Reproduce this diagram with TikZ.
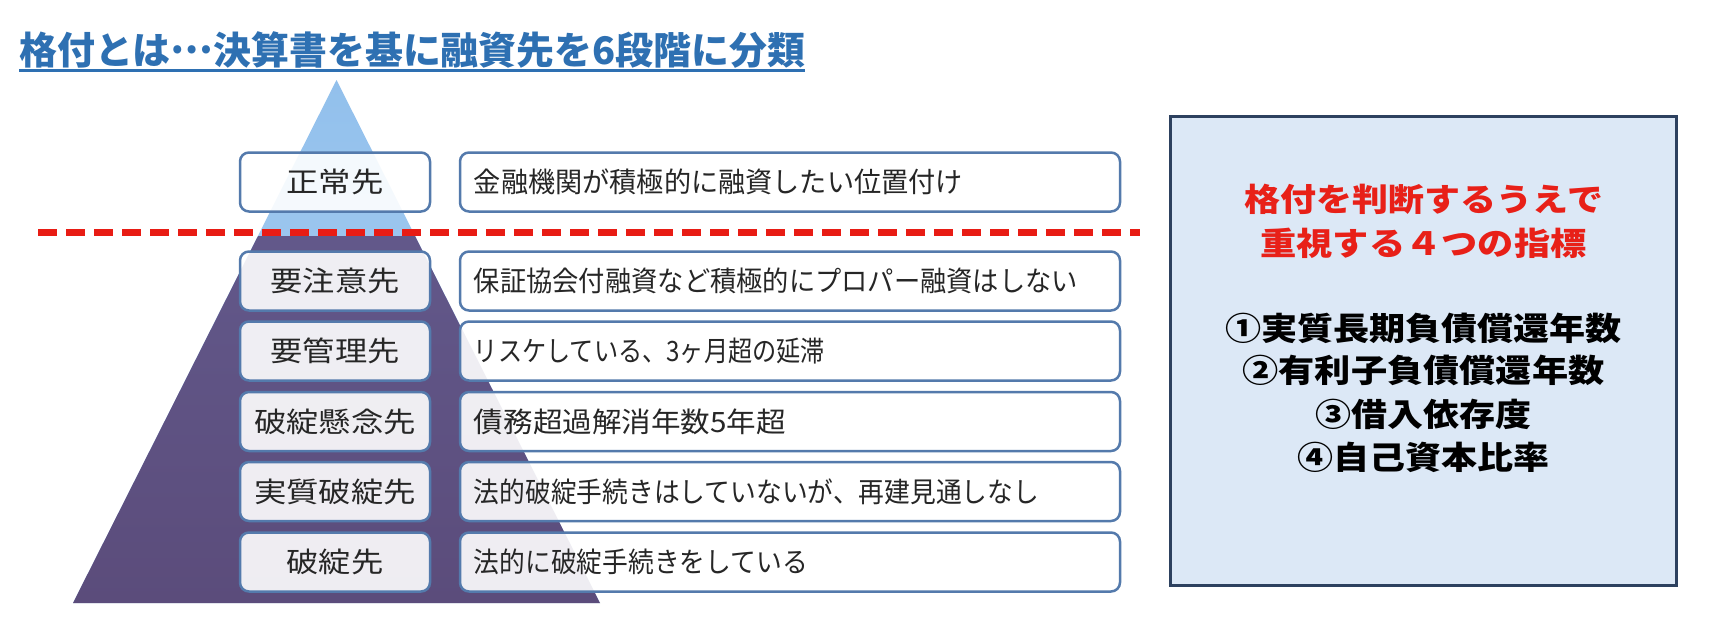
\documentclass[tikz,border=0pt]{standalone}
\usepackage{fontspec}
\usepackage{graphicx}
\newfontfamily\jp{Noto Sans CJK JP}
\newcommand{\fitw}[2]{\resizebox{#1pt}{\height}{#2}}
\definecolor{titleblue}{RGB}{46,112,178}
\definecolor{triblutop}{RGB}{146,192,236}
\definecolor{tribluebot}{RGB}{176,211,244}
\definecolor{tripurple}{RGB}{91,76,123}
\definecolor{tripurpletop}{RGB}{98,88,138}
\definecolor{boxborder}{RGB}{84,122,172}
\definecolor{dashred}{RGB}{232,28,20}
\definecolor{panelfill}{RGB}{220,232,246}
\definecolor{panelborder}{RGB}{45,65,95}
\definecolor{redtxt}{RGB}{232,32,24}
\definecolor{bodytxt}{RGB}{38,38,38}
\begin{document}
\begin{tikzpicture}[x=1pt,y=-1pt,
  tierbox/.style={draw=boxborder, line width=2.5pt, rounded corners=9pt, fill=white,
    fill opacity=0.9, text opacity=1, minimum height=59pt, inner sep=0pt,
    text=bodytxt, font=\jp\fontsize{28}{30}\selectfont},
  lbox/.style={tierbox, minimum width=190pt},
  rbox/.style={tierbox, minimum width=660pt},
  desc/.style={anchor=west, inner sep=0pt, text=bodytxt, font=\jp\fontsize{28}{30}\selectfont},
  redline/.style={inner sep=0pt, text=redtxt, font=\jp\bfseries\fontsize{32}{34}\selectfont},
  keyline/.style={inner sep=0pt, text=black, font=\jp\bfseries\fontsize{32}{34}\selectfont}]
\useasboundingbox (0,0) rectangle (1716,630);
\fill[white] (0,0) rectangle (1716,630);
% title
\node[anchor=west, inner sep=0pt, text=titleblue, font=\jp\bfseries\fontsize{38}{40}\selectfont]
  (title) at (19,50) {\fitw{786}{格付とは\raisebox{0.3em}{…}決算書を基に融資先を6段階に分類}};
\draw[titleblue, line width=2.5pt] ([yshift=-2pt]title.south west) -- ([yshift=-2pt]title.south east);
% pyramid
\coordinate (apex) at (336.5,80);
\coordinate (bl) at (73,603);
\coordinate (br) at (600,603);
\coordinate (ml) at (258,236);
\coordinate (mr) at (415,236);
\shade[top color=triblutop, bottom color=tribluebot] (apex) -- (br) -- (bl) -- cycle;
\shade[top color=tripurpletop, bottom color=tripurple] (ml) -- (mr) -- (br) -- (bl) -- cycle;
% dashed divider
\coordinate (dL) at (38,232.5);
\coordinate (dR) at (1140,232.5);
\draw[dashred, line width=7pt, dash pattern=on 19pt off 9pt] (dL) -- (dR);
% left boxes
\node[lbox] (l1) at (335,182)   {\fitw{97}{正常先}};
\node[lbox] (l2) at (335,281)   {\fitw{129}{要注意先}};
\node[lbox] (l3) at (335,351)   {\fitw{129}{要管理先}};
\node[lbox] (l4) at (335,421.5) {\fitw{162}{破綻懸念先}};
\node[lbox] (l5) at (335,491.5) {\fitw{162}{実質破綻先}};
\node[lbox] (l6) at (335,562)   {\fitw{97}{破綻先}};
% right boxes
\node[rbox] (r1) at (790,182)   {};
\node[rbox] (r2) at (790,281)   {};
\node[rbox] (r3) at (790,351)   {};
\node[rbox] (r4) at (790,421.5) {};
\node[rbox] (r5) at (790,491.5) {};
\node[rbox] (r6) at (790,562)   {};
\node[desc] (t1) at ([xshift=15pt]r1.west) {\fitw{489}{金融機関が積極的に融資したい位置付け}};
\node[desc] (t2) at ([xshift=15pt]r2.west) {\fitw{604}{保証協会付融資など積極的にプロパー融資はしない}};
\node[desc] (t3) at ([xshift=15pt]r3.west) {\fitw{351}{リスケしている、3ヶ月超の延滞}};
\node[desc] (t4) at ([xshift=15pt]r4.west) {\fitw{312}{債務超過解消年数5年超}};
\node[desc] (t5) at ([xshift=15pt]r5.west) {\fitw{565}{法的破綻手続きはしていないが、再建見通しなし}};
\node[desc] (t6) at ([xshift=15pt]r6.west) {\fitw{334}{法的に破綻手続きをしている}};
% right panel
\node[draw=panelborder, line width=2.5pt, fill=panelfill, minimum width=506pt,
  minimum height=469pt, inner sep=0pt] (panel) at (1423.5,351) {};
\node[redline] (h1) at (1423.5,199) {\fitw{359}{格付を判断するうえで}};
\node[redline] (h2) at (1423.5,243) {\fitw{326}{重視する４つの指標}};
\node[keyline] (k1) at (1423.5,328) {\fitw{397}{①実質長期負債償還年数}};
\node[keyline] (k2) at (1423.5,370) {\fitw{362}{②有利子負債償還年数}};
\node[keyline] (k3) at (1423.5,414) {\fitw{216}{③借入依存度}};
\node[keyline] (k4) at (1423.5,457) {\fitw{252}{④自己資本比率}};
\end{tikzpicture}
\end{document}
